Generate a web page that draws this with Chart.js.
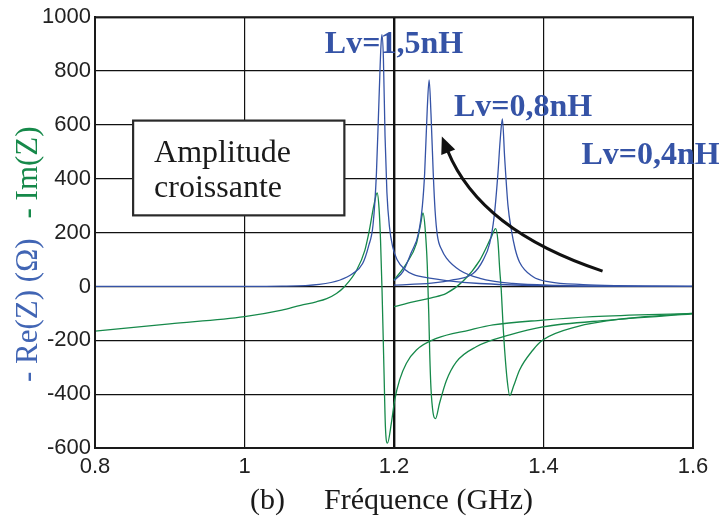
<!DOCTYPE html>
<html>
<head>
<meta charset="utf-8">
<script src="https://cdn.jsdelivr.net/npm/chart.js@4.4.1/dist/chart.umd.min.js"></script>
<style>
  html, body { margin: 0; padding: 0; background: #fff; }
  #wrap { width: 719px; height: 519px; }
</style>
</head>
<body>
<div id="wrap"><canvas id="impChart" width="719" height="519"></canvas></div>
<script>
// tick labels
const xTickLabels = ['0.8', '1', '1.2', '1.4', '1.6'];
const yTickLabels = ['-600', '-400', '-200', '0', '200', '400', '600', '800', '1000'];

// - Re(Z), Lv = 1,5 nH
const re15F = [0.8, 0.9, 1.0, 1.05, 1.1, 1.127, 1.145, 1.158, 1.166, 1.172, 1.1765, 1.18, 1.1825, 1.1838, 1.1858, 1.188, 1.1905, 1.194, 1.198, 1.204, 1.215, 1.2255, 1.25, 1.27, 1.3147, 1.4, 1.5, 1.6];
const re15V = [0, 0, 0, 1, 8, 23, 48, 85, 150, 230, 420, 700, 890, 935, 850, 560, 350, 220, 150, 100, 62, 45, 30, 22, 11, 3, 1, 0];
// - Re(Z), Lv = 0,8 nH
const re08F = [1.2, 1.212, 1.223, 1.233, 1.238, 1.241, 1.2445, 1.247, 1.2495, 1.2525, 1.255, 1.258, 1.264, 1.2702, 1.288, 1.315, 1.359, 1.42, 1.5, 1.6];
const re08V = [22, 55, 125, 200, 300, 420, 660, 767, 640, 420, 280, 190, 135, 105, 60, 30, 11, 4, 1, 0];
// - Re(Z), Lv = 0,4 nH
const re04F = [1.2, 1.25, 1.28, 1.3058, 1.319, 1.328, 1.334, 1.339, 1.342, 1.345, 1.348, 1.3525, 1.357, 1.362, 1.368, 1.386, 1.408, 1.453, 1.5, 1.6];
const re04V = [5, 12, 25, 48, 97, 160, 260, 418, 542, 622, 480, 300, 210, 140, 90, 36, 17, 7, 3, 0];

// - Im(Z), Lv = 1,5 nH
const im15F = [0.8, 0.9, 1.0, 1.05, 1.075, 1.096, 1.11, 1.123, 1.134, 1.15, 1.161, 1.167, 1.173, 1.1775, 1.18, 1.182, 1.184, 1.1865, 1.1885, 1.1913, 1.1965, 1.201, 1.2075, 1.2166, 1.23, 1.2567, 1.301, 1.3325, 1.399, 1.466, 1.6];
const im15V = [-166, -139, -112, -88, -70, -57, -45, -26, 0, 60, 134, 208, 300, 347, 290, 171, -14, -300, -520, -582, -507, -421, -347, -285, -236, -193, -162, -143, -125, -112, -100];
// - Im(Z), Lv = 0,8 nH
const im08F = [1.2, 1.2166, 1.23, 1.2355, 1.2388, 1.2415, 1.2445, 1.2465, 1.2478, 1.2495, 1.2523, 1.2555, 1.261, 1.27, 1.2834, 1.31, 1.3548, 1.399, 1.4886, 1.6];
const im08V = [23, 85, 159, 230, 273, 220, 80, -100, -250, -380, -470, -491, -433, -350, -280, -224, -180, -150, -125, -102];
// - Im(Z), Lv = 0,4 nH
const im04F = [1.2, 1.2255, 1.25, 1.27, 1.2925, 1.3147, 1.3303, 1.336, 1.339, 1.3415, 1.3435, 1.346, 1.348, 1.3515, 1.3548, 1.36, 1.368, 1.3859, 1.399, 1.4438, 1.511, 1.6];
const im04V = [-75, -57, -42, -26, 20, 97, 184, 215, 170, 60, -14, -150, -236, -350, -405, -370, -310, -236, -199, -150, -119, -100];

const BLUE = '#3553a6';
const GREEN = '#16894a';
const SERIF = '"Liberation Serif", "Times New Roman", serif';
const SANS = '"Liberation Sans", Arial, sans-serif';

function pts(f, v) {
    return f.map((x, i) => ({ x: x, y: v[i] }));
}

function curve(f, v, color) {
    return {
        data: pts(f, v),
        borderColor: color,
        borderWidth: 1.3,
        showLine: true,
        pointRadius: 0,
        cubicInterpolationMode: 'monotone',
        fill: false,
    };
}

const annotations = {
    id: 'annotations',
    afterDatasetsDraw(chart) {
        const { ctx, chartArea: a, scales: { x, y } } = chart;
        ctx.save();

        // frame
        ctx.strokeStyle = '#1a1a1a';
        ctx.lineWidth = 2;
        ctx.strokeRect(a.left, a.top, a.right - a.left, a.bottom - a.top);

        // Lv labels
        ctx.fillStyle = BLUE;
        ctx.font = 'bold 32px ' + SERIF;
        ctx.textBaseline = 'alphabetic';
        ctx.textAlign = 'left';
        ctx.fillText('Lv=1,5nH', x.getPixelForValue(1.1075), y.getPixelForValue(866));
        ctx.fillText('Lv=0,8nH', x.getPixelForValue(1.2802), y.getPixelForValue(634));
        ctx.fillText('Lv=0,4nH', x.getPixelForValue(1.4507), y.getPixelForValue(453));

        // Amplitude croissante box
        const bx0 = x.getPixelForValue(0.851), by0 = y.getPixelForValue(616);
        const bx1 = x.getPixelForValue(1.1336), by1 = y.getPixelForValue(264);
        ctx.fillStyle = '#fff';
        ctx.fillRect(bx0, by0, bx1 - bx0, by1 - by0);
        ctx.strokeStyle = '#2a2a2a';
        ctx.lineWidth = 2.2;
        ctx.strokeRect(bx0, by0, bx1 - bx0, by1 - by0);
        ctx.fillStyle = '#1a1a1a';
        ctx.font = '32px ' + SERIF;
        ctx.fillText('Amplitude', bx0 + 21, by0 + 41);
        ctx.fillText('croissante', bx0 + 21, by0 + 76);

        // curved arrow
        const p0 = { x: x.getPixelForValue(1.479), y: y.getPixelForValue(57) };
        const c = { x: x.getPixelForValue(1.315), y: y.getPixelForValue(208) };
        const t = { x: x.getPixelForValue(1.264), y: y.getPixelForValue(557) };
        let dx = t.x - c.x, dy = t.y - c.y;
        const len = Math.hypot(dx, dy);
        dx /= len; dy /= len;
        const hl = 17, hw = 7.5;
        const base = { x: t.x - dx * hl, y: t.y - dy * hl };
        ctx.strokeStyle = '#111';
        ctx.lineWidth = 3;
        ctx.beginPath();
        ctx.moveTo(p0.x, p0.y);
        ctx.quadraticCurveTo(c.x, c.y, base.x + dx * 2, base.y + dy * 2);
        ctx.stroke();
        ctx.fillStyle = '#111';
        ctx.beginPath();
        ctx.moveTo(t.x, t.y);
        ctx.lineTo(base.x - dy * hw, base.y + dx * hw);
        ctx.lineTo(base.x + dy * hw, base.y - dx * hw);
        ctx.closePath();
        ctx.fill();

        ctx.restore();
    },
    afterDraw(chart) {
        const { ctx } = chart;
        ctx.save();
        // y axis title, two colours
        ctx.font = '31px ' + SERIF;
        ctx.textBaseline = 'alphabetic';
        ctx.textAlign = 'left';
        ctx.translate(37, 382);
        ctx.rotate(-Math.PI / 2);
        const reTxt = '- Re(Z) (\u03A9)';
        ctx.fillStyle = '#4165b4';
        ctx.fillText(reTxt, 0, 0);
        const w = ctx.measureText(reTxt).width;
        ctx.fillStyle = GREEN;
        ctx.fillText('- Im(Z)', w + 20, 0);
        ctx.restore();

        // x axis title
        ctx.save();
        ctx.fillStyle = '#1a1a1a';
        ctx.font = '30px ' + SERIF;
        ctx.textBaseline = 'alphabetic';
        ctx.textAlign = 'left';
        ctx.fillText('(b)', 250, 509);
        ctx.fillText('Fr\u00e9quence (GHz)', 324, 509);
        ctx.restore();
    }
};

const ctxImp = document.getElementById('impChart').getContext('2d');
new Chart(ctxImp, {
    type: 'scatter',
    data: {
        datasets: [
            curve(re15F, re15V, BLUE),
            curve(re08F, re08V, BLUE),
            curve(re04F, re04V, BLUE),
            curve(im15F, im15V, GREEN),
            curve(im08F, im08V, GREEN),
            curve(im04F, im04V, GREEN),
        ]
    },
    options: {
        responsive: false,
        animation: false,
        layout: { padding: { left: 0, top: 16, right: 26, bottom: 0 } },
        plugins: {
            legend: { display: false },
            tooltip: { enabled: false },
        },
        scales: {
            x: {
                type: 'linear',
                min: 0.8,
                max: 1.6,
                afterFit: (s) => { s.height = 71; },
                ticks: {
                    stepSize: 0.2,
                    padding: 6,
                    color: '#222',
                    font: { family: SANS, size: 22 },
                    callback: (v, i) => xTickLabels[i],
                },
                grid: {
                    color: '#111',
                    drawTicks: false,
                    lineWidth: (c) => (c.tick && Math.abs(c.tick.value - 1.2) < 1e-6) ? 2.4 : 1.2,
                },
                border: { color: '#111', width: 2 },
            },
            y: {
                min: -600,
                max: 1000,
                afterFit: (s) => { s.width = 95; },
                ticks: {
                    stepSize: 200,
                    padding: 4,
                    color: '#222',
                    font: { family: SANS, size: 22 },
                    callback: (v, i) => yTickLabels[i],
                },
                grid: {
                    color: '#111',
                    drawTicks: false,
                    lineWidth: 1.2,
                },
                border: { color: '#111', width: 2 },
            }
        }
    },
    plugins: [annotations]
});
</script>
</body>
</html>
